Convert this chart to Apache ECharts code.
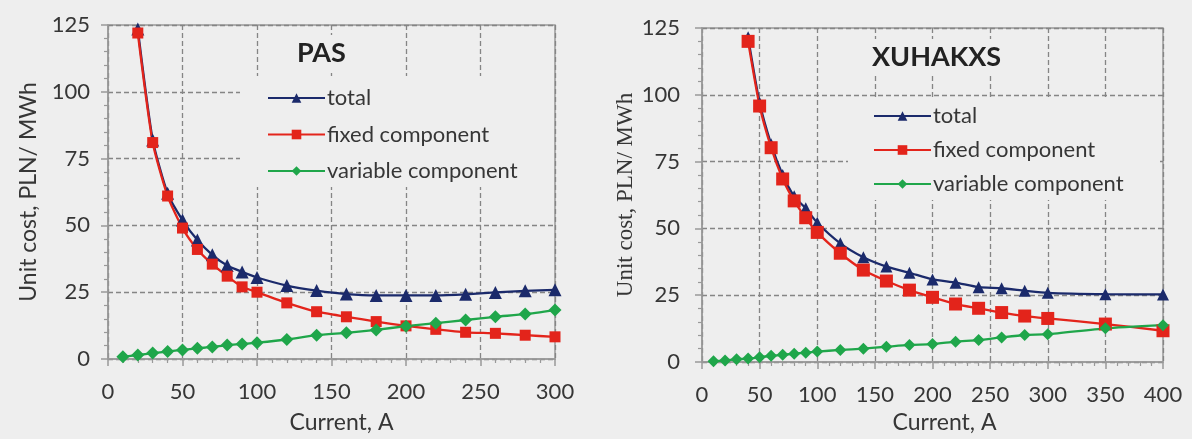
<!DOCTYPE html>
<html>
<head>
<meta charset="utf-8">
<script src="https://cdn.jsdelivr.net/npm/echarts@6/dist/echarts.min.js"></script>
<style>
html,body{margin:0;padding:0;background:#eeeeee;}
#c{width:1192px;height:439px;}
</style>
</head>
<body>
<div id="c"></div>
<script>
// ---- Data: PAS (left) ----
const xPAS = [20,30,40,50,60,70,80,90,100,120,140,160,180,200,220,240,260,280,300];
const totalPAS = [123.5,82,62,52,44.5,39,35,32.6,30.5,27.5,25.6,24.3,23.8,23.8,23.8,24.2,24.9,25.5,25.9];
const fixedPAS = [122,81,61,49,41,35.5,31,27,25,21,17.7,15.8,14,12.4,11.1,10,9.6,8.9,8.3];
const xPASvar = [10,20,30,40,50,60,70,80,90,100,120,140,160,180,200,220,240,260,280,300];
const varPAS = [0.8,1.5,2.2,2.8,3.4,4,4.5,5.2,5.6,6.1,7.3,8.9,9.8,10.9,12.3,13.4,14.6,15.8,16.8,18.3];

// ---- Data: XUHAKXS (right) ----
const xXU = [40,50,60,70,80,90,100,120,140,160,180,200,220,240,260,280,300,350,400];
const totalXU = [121.5,97,81.5,70,62,57.5,52.1,44.4,39.2,35.7,33.4,30.9,29.7,28,27.6,26.7,25.9,25.4,25.3];
const fixedXU = [120,95.8,80.2,68.5,60.3,54,48.5,40.7,34.4,30.3,26.9,24.2,21.7,20.1,18.5,17.2,16.3,14.2,11.7];
const xXUvar = [10,20,30,40,50,60,70,80,90,100,120,140,160,180,200,220,240,260,280,300,350,400];
const varXU = [0.3,0.6,1.0,1.3,1.8,2.3,2.7,3.1,3.5,3.9,4.5,5.0,5.7,6.4,6.7,7.6,8.2,9.2,10.1,10.4,12.6,13.8];

const seriesNames = ['total','fixed component','variable component'];
const titles = ['PAS','XUHAKXS'];
const xTitle = 'Current, A';
const yTitle = 'Unit cost, PLN/ MWh';

const pairs = (xs, ys) => xs.map((x, i) => [x, ys[i]]);

const BG = '#eeeeee';
const NAVY = '#1b2a6b', RED = '#e3241b', GREEN = '#1fa64a';
const AX = '#999999', GRID = '#858585';
const FONT = 'Lato';
const TXT = '#363636';

function xAxisCfg(gi, max, pad) {
  return {
    type: 'value', gridIndex: gi, min: 0, max: max, interval: 50,
    name: xTitle, nameLocation: 'middle', nameGap: gi === 0 ? 52 : 49,
    nameTextStyle: {fontFamily: FONT, fontSize: 23, color: TXT, padding: [0,0,0,pad]},
    axisLine: {show: true, lineStyle: {color: AX, width: 1.5}},
    axisTick: {show: true, length: 7, lineStyle: {color: AX, width: 1.5}},
    minorTick: {show: true, splitNumber: 5, length: 4, lineStyle: {color: AX, width: 1.2}},
    axisLabel: {fontFamily: FONT, fontSize: 22, color: TXT, margin: 22},
    splitLine: {show: true, lineStyle: {color: GRID, width: 1.3, type: [5,3]}}
  };
}
function yAxisCfg(gi, gap, nameFont) {
  return {
    type: 'value', gridIndex: gi, min: 0, max: 125, interval: 25,
    name: yTitle, nameLocation: 'middle', nameGap: gap,
    nameTextStyle: {fontFamily: nameFont, fontSize: 23, color: TXT},
    axisLine: {show: true, lineStyle: {color: AX, width: 1.5}},
    axisTick: {show: true, length: 7, lineStyle: {color: AX, width: 1.5}},
    minorTick: {show: true, splitNumber: 5, length: 4, lineStyle: {color: AX, width: 1.2}},
    axisLabel: {fontFamily: FONT, fontSize: 22, color: TXT, margin: gi === 0 ? 18 : 22},
    splitLine: {show: true, lineStyle: {color: GRID, width: 1.3, type: [5,3]}}
  };
}
function lineSeries(name, gi, data, color, symbol, size) {
  return {
    name: name, type: 'line', xAxisIndex: gi, yAxisIndex: gi,
    data: data, smooth: 0.2, symbol: symbol, symbolSize: size,
    lineStyle: {color: color, width: 2.3},
    itemStyle: {color: color},
    emphasis: {disabled: true}, z: 3
  };
}

const chart = echarts.init(document.getElementById('c'), null, {renderer: 'canvas'});
chart.setOption({
  backgroundColor: BG,
  animation: false,
  title: [
    {text: titles[0], left: 292, top: 35, padding: [5,5],
     backgroundColor: BG,
     textStyle: {fontFamily: FONT, fontWeight: 'bold', fontSize: 27, color: '#222'}},
    {text: titles[1], left: 867, top: 39, padding: [5,5],
     backgroundColor: BG,
     textStyle: {fontFamily: FONT, fontWeight: 'bold', fontSize: 27, color: '#222'}}
  ],
  graphic: [
    {type: 'rect', z: 1, shape: {x: 240, y: 76, width: 313, height: 111}, style: {fill: BG}},
    {type: 'rect', z: 1, shape: {x: 848, y: 99, width: 312, height: 101}, style: {fill: BG}}
  ],
  legend: [
    {orient: 'vertical', left: 262, top: 82, itemWidth: 57, itemHeight: 12, itemGap: 14.5,
     data: seriesNames, selectedMode: false,
     textStyle: {fontFamily: FONT, fontSize: 22, color: TXT, lineHeight: 22, padding: [0,0,0,-3]}},
    {orient: 'vertical', left: 868, top: 100, itemWidth: 57, itemHeight: 12, itemGap: 12,
     data: seriesNames, selectedMode: false,
     textStyle: {fontFamily: FONT, fontSize: 22, color: TXT, lineHeight: 22, padding: [0,0,0,-3]}}
  ],
  grid: [
    {left: 108, top: 25, width: 447, height: 334, show: true, borderColor: AX, borderWidth: 1.5, backgroundColor: 'transparent'},
    {left: 702, top: 28, width: 461, height: 334, show: true, borderColor: AX, borderWidth: 1.5, backgroundColor: 'transparent'}
  ],
  xAxis: [xAxisCfg(0, 300, 20), xAxisCfg(1, 400, 24)],
  yAxis: [yAxisCfg(0, 68, FONT), yAxisCfg(1, 60, 'Liberation Serif')],
  series: [
    lineSeries(seriesNames[0], 0, pairs(xPAS, totalPAS), NAVY, 'triangle', 13),
    lineSeries(seriesNames[1], 0, pairs(xPAS, fixedPAS), RED, 'rect', 11),
    lineSeries(seriesNames[2], 0, pairs(xPASvar, varPAS), GREEN, 'diamond', 13),
    lineSeries(seriesNames[0], 1, pairs(xXU, totalXU), NAVY, 'triangle', 12),
    lineSeries(seriesNames[1], 1, pairs(xXU, fixedXU), RED, 'rect', 13),
    lineSeries(seriesNames[2], 1, pairs(xXUvar, varXU), GREEN, 'diamond', 12)
  ]
});
</script>
</body>
</html>
